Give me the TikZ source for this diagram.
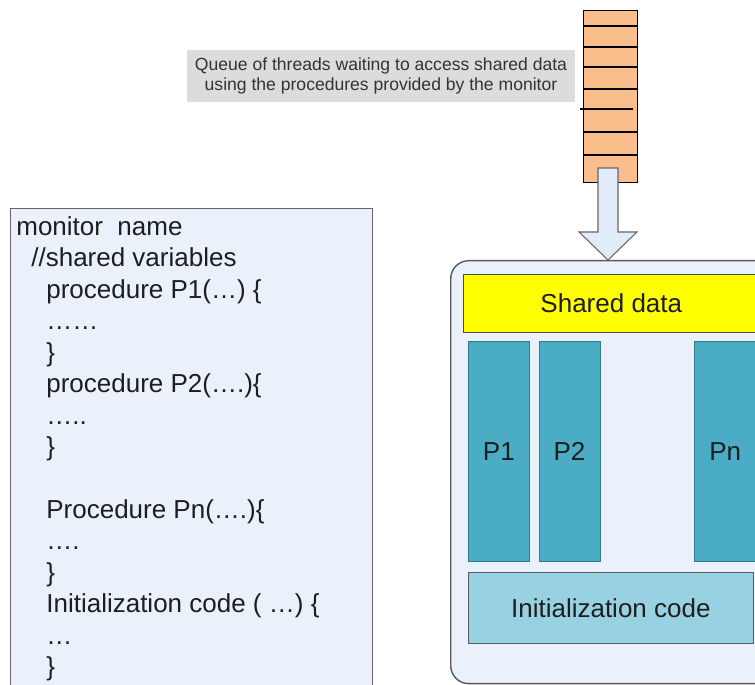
\documentclass[tikz,border=0pt]{standalone}
\usepackage{fontspec}
\setmainfont{Liberation Sans}
\usetikzlibrary{positioning}
\definecolor{codebg}{RGB}{234,241,251}
\definecolor{labelgray}{RGB}{220,220,220}
\definecolor{queueorange}{RGB}{250,190,140}
\definecolor{arrowbg}{RGB}{226,235,248}
\definecolor{sharedyellow}{RGB}{255,255,0}
\definecolor{procblue}{RGB}{75,172,198}
\definecolor{procedge}{RGB}{49,120,140}
\definecolor{initblue}{RGB}{152,210,226}
\definecolor{textdark}{RGB}{30,30,30}

\begin{document}
\begin{tikzpicture}[x=0.02cm, y=-0.02cm, every node/.style={font=\fontsize{14.8}{17.9}\selectfont, text=textdark, inner sep=0pt}]
    \clip (0,0) rectangle (755,685);
    \fill[white] (0,0) rectangle (755,685);

    % Code listing
    \node[rectangle, draw=gray!80!black, fill=codebg, minimum width=7.24cm, minimum height=9.84cm, anchor=north west] (code) at (10,208) {};
    \node[align=left, anchor=north west] (codetext) at (16,213) {\strut monitor\ \ name\\
        \hspace*{0.3cm}//shared variables\\
        \hspace*{0.6cm}procedure P1(…) \{\\
        \hspace*{0.6cm}……\\
        \hspace*{0.6cm}\}\\
        \hspace*{0.6cm}procedure P2(….)\{\\
        \hspace*{0.6cm}…..\\
        \hspace*{0.6cm}\}\\[17.9pt]
        \hspace*{0.6cm}Procedure Pn(….)\{\\
        \hspace*{0.6cm}….\\
        \hspace*{0.6cm}\}\\
        \hspace*{0.6cm}Initialization code ( …) \{\\
        \hspace*{0.6cm}…\\
        \hspace*{0.6cm}\}};

    % Queue label
    \node[rectangle, fill=labelgray, minimum width=7.76cm, minimum height=1.04cm, align=center, font=\fontsize{10}{11.4}\selectfont, text=black!80] (qlabel) at (381,76) {Queue of threads waiting to access shared data\\using the procedures provided by the monitor};

    % Queue of threads
    \node[rectangle, draw=black, line width=0.8pt, fill=queueorange, minimum width=1.08cm, minimum height=3.44cm, anchor=north west] (queue) at (583,10) {};
    \foreach \y in {26,47,67,89,132,155}
        \draw[line width=0.8pt] (583,\y) -- (637,\y);
    \draw[line width=0.8pt] (580,109) -- (633,109);

    % Block arrow into the monitor
    \coordinate (tip) at (608,260);
    \draw[draw=gray!80!black, fill=arrowbg, line width=0.6pt] (598,168) -- (618,168) -- (618,232) -- (637,232) -- (tip) -- (579,232) -- (598,232) -- cycle;

    % Monitor
    \node[rectangle, rounded corners=0.36cm, draw=gray!70!black, line width=0.8pt, fill=codebg, minimum width=7cm, minimum height=8.46cm, anchor=north west] (monitor) at (450,260) {};
    \node[rectangle, draw=gray!60!black, fill=sharedyellow, minimum width=5.92cm, minimum height=1.16cm, anchor=north west] (shared) at (463,274) {Shared data};

    % Procedures
    \node[rectangle, draw=procedge, fill=procblue, minimum width=1.22cm, minimum height=4.4cm, anchor=north west] (p1) at (468,341) {P1};
    \node[rectangle, draw=procedge, fill=procblue, minimum width=1.22cm, minimum height=4.4cm, right=0.18cm of p1] (p2) {P2};
    \node[rectangle, draw=procedge, fill=procblue, minimum width=1.22cm, minimum height=4.4cm, right=1.88cm of p2] (pn) {Pn};

    % Initialization
    \node[rectangle, draw=gray!70!black, fill=initblue, minimum width=5.7cm, minimum height=1.42cm, anchor=north west] (init) at (468,572) {Initialization code};
\end{tikzpicture}
\end{document}
